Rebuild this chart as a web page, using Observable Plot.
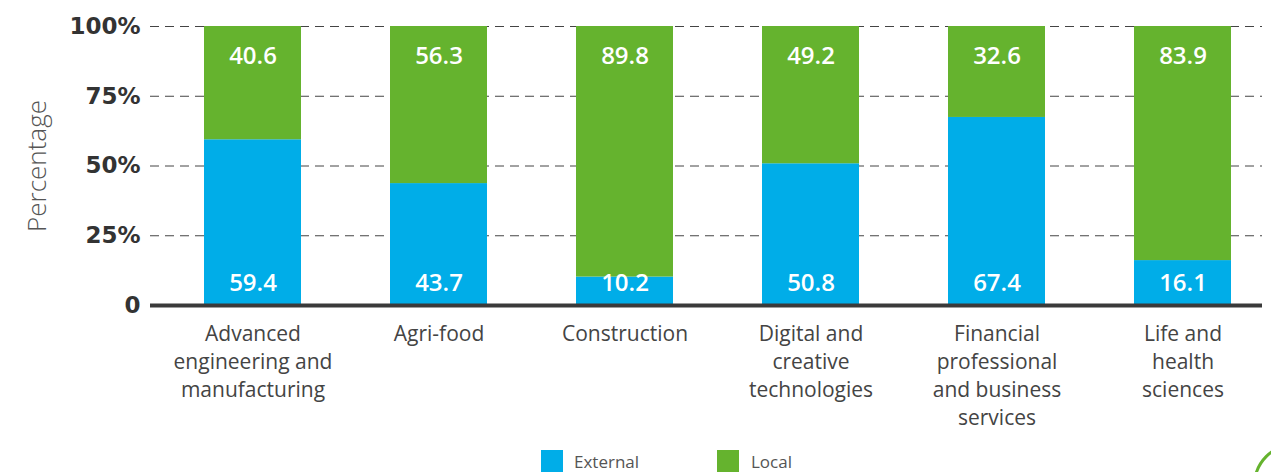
<!DOCTYPE html>
<html>
<head>
<meta charset="utf-8">
<script src="https://cdn.jsdelivr.net/npm/d3@7"></script>
<script src="https://cdn.jsdelivr.net/npm/@observablehq/plot@0.6"></script>
<style>
  html, body { margin: 0; padding: 0; background: #fff; }
  body { width: 1271px; height: 472px; overflow: hidden; position: relative; font-family: "Open Sans", sans-serif; }
  #legend { position: absolute; left: 0; top: 450px; width: 1271px; height: 22px; }
  .sw { position: absolute; top: 0; width: 22px; height: 22px; }
  .lt { position: absolute; top: 1px; line-height: 22px; font-size: 17px; color: #555; }
  #deco { position: absolute; left: 1253px; top: 443px; width: 84px; height: 84px; border-radius: 50%; border: 3px solid #65b32e; box-sizing: border-box; }
</style>
</head>
<body>
<div id="chart"></div>
<div id="legend">
  <div class="sw" style="left:541px;background:#00ade8"></div><div class="lt" style="left:574px">External</div>
  <div class="sw" style="left:717px;background:#65b32e"></div><div class="lt" style="left:751px">Local</div>
</div>
<div id="deco"></div>
<script>
const categories = ["Advanced engineering and manufacturing", "Agri-food", "Construction", "Digital and creative technologies", "Financial professional and business services", "Life and health sciences"];
const categoryLabels = ["Advanced\nengineering and\nmanufacturing", "Agri-food", "Construction", "Digital and\ncreative\ntechnologies", "Financial\nprofessional\nand business\nservices", "Life and\nhealth\nsciences"];
const series = ["External", "Local"];
const externalValues = [59.4, 43.7, 10.2, 50.8, 67.4, 16.1];
const localValues = [40.6, 56.3, 89.8, 49.2, 32.6, 83.9];
const yTicks = [0, 25, 50, 75, 100];
const colors = ["#00ade8", "#65b32e"];

const data = [];
categories.forEach((c, i) => {
  data.push({category: c, series: "External", value: externalValues[i]});
  data.push({category: c, series: "Local", value: localValues[i]});
});
const labelOf = new Map(categories.map((c, i) => [c, categoryLabels[i]]));

const chart = Plot.plot({
  width: 1271,
  height: 450,
  marginLeft: 150,
  marginRight: 9,
  marginTop: 26,
  marginBottom: 145,
  style: {fontFamily: "Open Sans, sans-serif", background: "#fff", overflow: "visible"},
  x: {domain: categories, range: [203, 1231], paddingInner: 0.479, paddingOuter: 0, label: null},
  y: {domain: [0, 100], label: null},
  color: {domain: series, range: colors},
  marks: [
    Plot.ruleY(yTicks.filter(d => d > 0), {stroke: "#444", strokeWidth: 1, strokeDasharray: "9,6"}),
    Plot.barY(data, {x: "category", y: "value", fill: "series", order: series}),
    Plot.ruleY([0], {stroke: "#3a3a3a", strokeWidth: 4}),
    Plot.axisY({ticks: yTicks, tickSize: 0, tickPadding: 10, tickFormat: d => d === 0 ? "0" : d + "%", fontSize: 23, fontWeight: "bold", fontFamily: "DejaVu Sans, sans-serif", fill: "#333"}),
    Plot.text(["Percentage"], {frameAnchor: "left", textAnchor: "middle", dx: -113, rotate: -90, fontSize: 26, fill: "#555", fontWeight: 300}),
    Plot.axisX({tickSize: 0, tickPadding: 16, tickFormat: d => labelOf.get(d), fontSize: 21, lineHeight: 1.333, fill: "#444", lineAnchor: "top"}),
    Plot.text(categories, {x: d => d, y: 0, text: (d, i) => externalValues[i].toFixed(1), dy: -22, fill: "white", fontSize: 24, fontWeight: 600}),
    Plot.text(categories, {x: d => d, y: 100, text: (d, i) => localValues[i].toFixed(1), dy: 30, fill: "white", fontSize: 24, fontWeight: 600})
  ]
});
document.getElementById("chart").appendChild(chart);
</script>
</body>
</html>
